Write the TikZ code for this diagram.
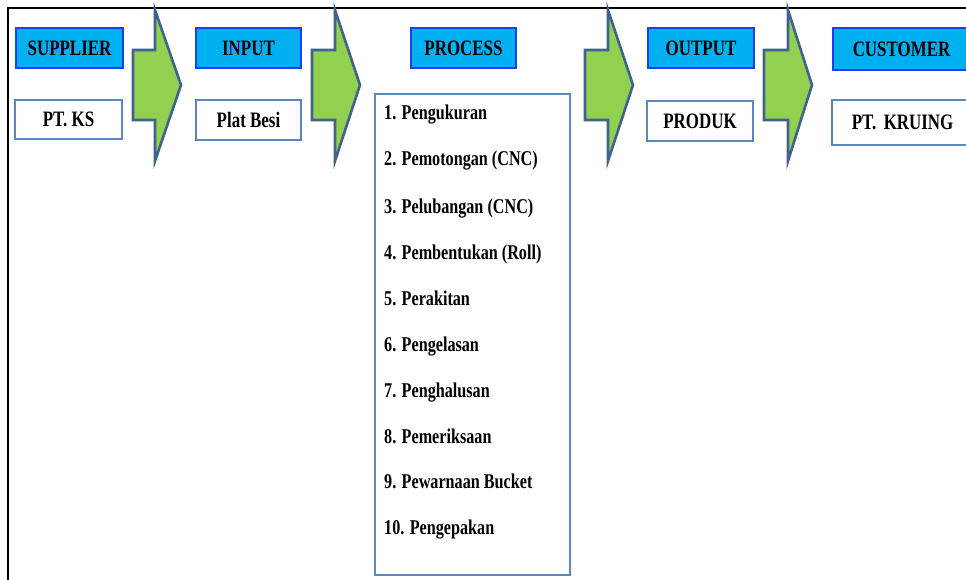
\documentclass[tikz,border=0pt]{standalone}
\usepackage{fontspec}
\setmainfont{Liberation Serif}[FakeStretch=0.77]
\definecolor{headfill}{HTML}{00B0F0}
\definecolor{headline}{HTML}{1F3CF0}
\definecolor{boxline}{HTML}{5B86C0}
\definecolor{arrfill}{HTML}{92D050}
\definecolor{arrline}{HTML}{3F6290}
\tikzset{
  headbox/.style={draw=headline, line width=1.5pt, fill=headfill, inner sep=0pt,
    font=\fontsize{22}{24}\selectfont\bfseries},
  namebox/.style={draw=boxline, line width=2.6pt, fill=white, inner sep=0pt,
    font=\fontsize{22}{24}\selectfont\bfseries},
  listbox/.style={draw=boxline, line width=2.6pt, fill=white},
  item/.style={anchor=west, inner sep=0pt, text height=14pt, text depth=4pt,
    font=\fontsize{21}{23}\selectfont\bfseries},
  blockarrow/.style={draw=arrline, line width=2.6pt, fill=arrfill, line join=miter},
  frame/.style={draw=black, line width=2pt}
}
\begin{document}
\begin{tikzpicture}[x=1pt,y=-1pt]
\useasboundingbox (0,0) rectangle (966,580);
\begin{scope}
\clip (0,0) rectangle (966,580);
\fill[white] (0,0) rectangle (966,580);
\draw[frame] (8,580) -- (8,8) -- (970,8);
% block arrows
\foreach \a/\h/\t in {133/155/181, 312/335/360, 585/608/633, 764/788/812}{
  \draw[blockarrow] (\a,50) -- (\h,50) -- (\h,10) -- (\t,85) -- (\h,161) -- (\h,120) -- (\a,120) -- cycle;
}
% header boxes
\node[headbox, minimum width=107pt, minimum height=40pt] (supplier) at (69.5,48) {SUPPLIER};
\node[headbox, minimum width=105pt, minimum height=40pt] (input) at (248.5,48) {INPUT};
\node[headbox, minimum width=105pt, minimum height=40pt] (process) at (463.5,48) {PROCESS};
\node[headbox, minimum width=106pt, minimum height=40pt] (output) at (701,48) {OUTPUT};
\node[headbox, minimum height=42pt, anchor=west, inner xsep=20pt, text width=140pt, align=left] (customer) at (832,49) {CUSTOMER};
% name boxes
\node[namebox, minimum width=107pt, minimum height=39pt] (ks) at (68.5,119.5) {PT. KS};
\node[namebox, minimum width=105pt, minimum height=40pt] (plat) at (248.5,120) {Plat Besi};
\node[namebox, minimum width=106pt, minimum height=40pt] (produk) at (700,121) {PRODUK};
\node[namebox, minimum height=45pt, anchor=west, inner xsep=20pt, text width=140pt, align=left] (kruing) at (830.5,122.5) {PT. KRUING};
% process list
\draw[listbox] (375,94) rectangle (570,575);
\node[item] (p1) at (384,115) {1. Pengukuran};
\node[item] (p2) at (384,161) {2. Pemotongan (CNC)};
\node[item] (p3) at (384,209) {3. Pelubangan (CNC)};
\node[item] (p4) at (384,254) {4. Pembentukan (Roll)};
\node[item] (p5) at (384,300) {5. Perakitan};
\node[item] (p6) at (384,346) {6. Pengelasan};
\node[item] (p7) at (384,392) {7. Penghalusan};
\node[item] (p8) at (384,438) {8. Pemeriksaan};
\node[item] (p9) at (384,483) {9. Pewarnaan Bucket};
\node[item] (p10) at (384,529) {10. Pengepakan};
\end{scope}
\end{tikzpicture}
\end{document}
